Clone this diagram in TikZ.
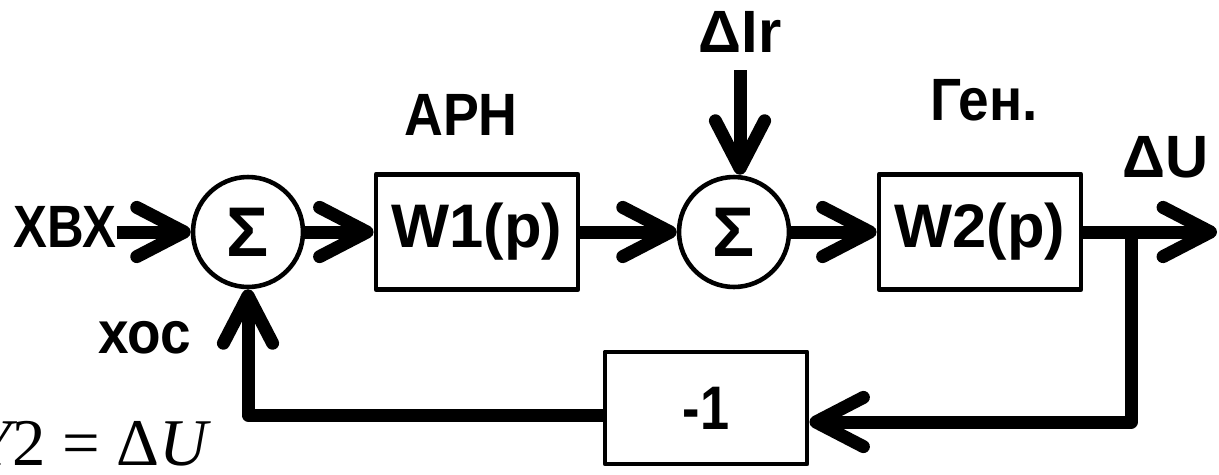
\documentclass[tikz,border=0pt]{standalone}
\usepackage{fontspec}
\setmainfont{Liberation Sans}
\newfontfamily\serifx{Liberation Serif}
\usetikzlibrary{arrows.meta}
\begin{document}
\begin{tikzpicture}[x=0.02cm,y=-0.02cm,
  lbl/.style={font=\fontsize{34}{40}\selectfont\bfseries, inner sep=0pt, anchor=base},
  sumnode/.style={circle, draw, line width=2.6pt, minimum size=2.2cm, inner sep=0pt,
    font=\fontsize{40}{46}\selectfont\bfseries},
  blk/.style={rectangle, draw, line width=2.8pt, line join=round, minimum width=4.04cm,
    minimum height=2.3cm, inner sep=0pt, font=\fontsize{35}{42}\selectfont\bfseries},
  sig/.style={line width=7.4pt, line join=round,
    -{Straight Barb[round,length=27pt,width=28pt]}}]
\useasboundingbox (0,0) rectangle (1219,474);
\clip (0,0) rectangle (1219,474);

% blocks
\node[sumnode] (s1) at (248,232) {Σ};
\node[blk] (w1) at (477,232) {W1(p)};
\node[sumnode] (s2) at (734,232) {Σ};
\node[blk] (w2) at (980,232) {W2(p)};
\node[blk, minimum height=2.24cm] (m1) at (706,408) {\scalebox{0.85}[1]{-1}};

% labels
\node[lbl] (xin) at (65,247) {\scalebox{0.85}[1]{ХВХ}};
\node[lbl] (xoc) at (145,353) {\scalebox{0.92}[1]{хос}};
\node[lbl] (arn) at (461,135) {\scalebox{0.9}[1]{АРН}};
\node[lbl] (gen) at (984,120) {\scalebox{0.92}[1]{Ген.}};
\node[lbl] (dI) at (740,52) {ΔIr};
\node[lbl] (dU) at (1166,177) {ΔU};
\node[inner sep=0pt, anchor=base east, font=\serifx\fontsize{38}{44}\selectfont] (eq) at (208,465)
  {\itshape Y\upshape 2 = Δ\itshape U};

% connectors
\coordinate (br) at (1131,232);
\coordinate (out) at (1217,232);
\draw[sig] (xin.east |- s1.west) -- (s1.west);
\draw[sig] (s1.east) -- (w1.west);
\draw[sig] (w1.east) -- (s2.west);
\draw[sig] (s2.east) -- (w2.west);
\draw[sig] (w2.east) -- (out);
\draw[sig] ([yshift=-0.36cm]dI.south) -- (dI.south |- s2.north);
\draw[sig] (br) |- ([yshift=-0.28cm]m1.east);
\draw[sig] ([yshift=-0.14cm]m1.west) -| (s1.south);
\end{tikzpicture}
\end{document}
